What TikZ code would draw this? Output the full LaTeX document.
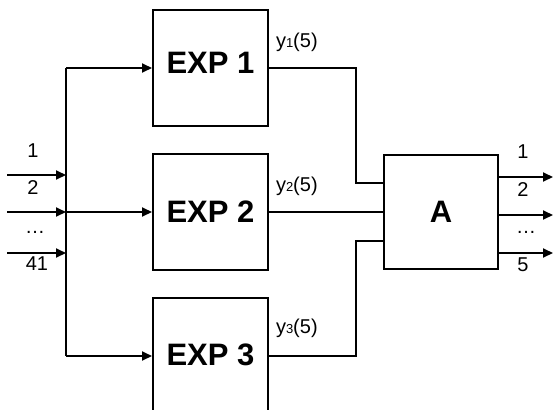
\documentclass[tikz,border=0pt]{standalone}
\usepackage{fontspec}
\setmainfont{Liberation Sans}
\usetikzlibrary{arrows.meta,calc}
\begin{document}
\begin{tikzpicture}[x=1pt,y=-1pt,
  line width=2pt,
  box/.style={draw,minimum width=115pt,minimum height=116pt,inner sep=0pt,
    font=\fontsize{31}{36}\selectfont\bfseries},
  lbl/.style={inner sep=0pt,font=\fontsize{20}{24}\selectfont},
  arr/.style={-{Triangle[length=10pt,width=9pt]}},
  wire/.style={line join=miter}]
\useasboundingbox (0,0) rectangle (555,410);
\clip (0,0) rectangle (555,410);

% processing blocks
\node[box,text depth=10pt] (e1) at (210.5,68) {EXP 1};
\node[box] (e2) at (210.5,212) {EXP 2};
\node[box,text depth=3pt] (e3) at (210.5,356) {EXP 3};
\node[box,minimum width=114pt,minimum height=114pt] (a) at (441,212) {A};

% input bus
\coordinate (btop) at (66,68);
\coordinate (bmid) at (66,212);
\coordinate (bbot) at (66,356);
\draw (btop) -- (bbot);
\draw[arr] (btop) -- (e1.west);
\draw[arr] (bmid) -- (e2.west);
\draw[arr] (bbot) -- (e3.west);

% incoming lines
\coordinate (i1) at (7,175);
\coordinate (i2) at (7,212);
\coordinate (i3) at (7,253);
\draw[arr] (i1) -- (i1 -| btop);
\draw[arr] (i2) -- (bmid);
\draw[arr] (i3) -- (i3 -| btop);
\node[lbl] (n1) at (33,151) {1};
\node[lbl] (n2) at (33,188) {2};
\node[lbl] (n3) at (35,232) {\dots};
\node[lbl] (n4) at (37,264) {41};

% block outputs into A
\coordinate (ta) at ($(a.west)+(0,-29)$);
\coordinate (tc) at ($(a.west)+(0,29)$);
\draw[wire] (e1.east) -- (356,68) -- (356,183) -- (ta);
\draw (e2.east) -- (a.west);
\draw[wire] (e3.east) -- (356,356) -- (356,241) -- (tc);
\node[lbl,anchor=west] (y1) at (275,42) {y{\fontsize{13}{14}\selectfont 1}(5)};
\node[lbl,anchor=west] (y2) at (275,186) {y{\fontsize{13}{14}\selectfont 2}(5)};
\node[lbl,anchor=west] (y3) at (275,328) {y{\fontsize{13}{14}\selectfont 3}(5)};

% outputs of A
\coordinate (o1) at (553,177);
\coordinate (o2) at (553,215);
\coordinate (o3) at (553,253);
\draw[arr] (o1 -| a.east) -- (o1);
\draw[arr] (o2 -| a.east) -- (o2);
\draw[arr] (o3 -| a.east) -- (o3);
\node[lbl] (m1) at (523,152) {1};
\node[lbl] (m2) at (523,190) {2};
\node[lbl] (m3) at (526,232) {\dots};
\node[lbl] (m4) at (523,265) {5};
\end{tikzpicture}
\end{document}
